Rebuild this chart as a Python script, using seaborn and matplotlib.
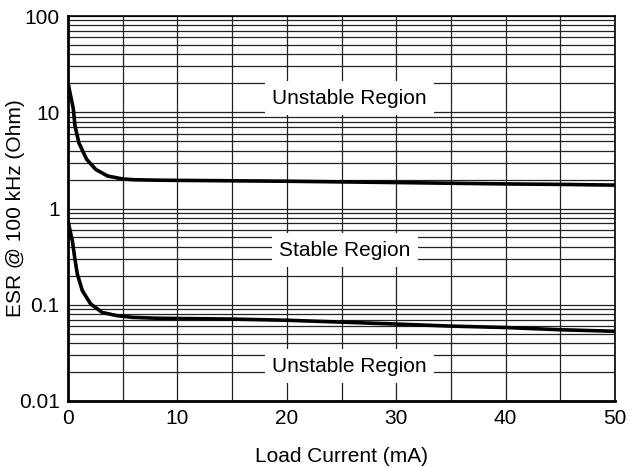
import numpy as np
import pandas as pd
import matplotlib
matplotlib.use("Agg")
import matplotlib.pyplot as plt
import seaborn as sns
from matplotlib.ticker import FixedLocator, FixedFormatter, LogLocator, NullFormatter

# Data
upper_x = [0, 0.2, 0.4, 0.49, 0.64, 1.0, 1.7, 2.53, 3.6, 4.96, 6.0, 8, 10, 15, 20, 25, 30, 35, 40, 45, 50]
upper_y = [20.4, 15.5, 12.2, 10.7, 7.2, 4.8, 3.25, 2.55, 2.18, 2.03, 1.99, 1.97, 1.96, 1.94, 1.92, 1.89, 1.86, 1.83, 1.8, 1.78, 1.75]
lower_x = [0, 0.2, 0.4, 0.61, 0.85, 1.31, 2.07, 3.14, 4.5, 5.9, 8, 10, 15, 20, 25, 30, 35, 40, 45, 50]
lower_y = [0.75, 0.58, 0.46, 0.31, 0.209, 0.14, 0.102, 0.083, 0.077, 0.074, 0.0725, 0.072, 0.071, 0.069, 0.066, 0.063, 0.060, 0.058, 0.055, 0.053]

x_ticks = [0, 10, 20, 30, 40, 50]
y_ticks = [0.01, 0.1, 1, 10, 100]
y_tick_labels = ["0.01", "0.1", "1", "10", "100"]

labels = ["Unstable Region", "Stable Region", "Unstable Region"]
label_x = [25.7, 25.3, 25.7]
label_y = [14, 0.37, 0.023]

sns.set_style("white")
plt.rcParams['font.family'] = ['Liberation Sans', 'DejaVu Sans']
plt.rcParams['text.color'] = 'black'
plt.rcParams['axes.labelcolor'] = 'black'

fig = plt.figure(figsize=(6.29, 4.67), dpi=100)
ax = fig.add_axes([68/629, 1 - 401/467, (615-68)/629, (401-16)/467])

df = pd.concat([
    pd.DataFrame({"x": upper_x, "y": upper_y, "curve": "upper"}),
    pd.DataFrame({"x": lower_x, "y": lower_y, "curve": "lower"}),
])
sns.lineplot(data=df, x="x", y="y", units="curve", estimator=None, sort=False,
             color="black", linewidth=2.6, ax=ax, zorder=5)
for l in ax.get_lines():
    l.set_solid_joinstyle("round")
    l.set_solid_capstyle("butt")

ax.set_yscale("log")
ax.set_xlim(0, 50)
ax.set_ylim(0.01, 100)

ax.xaxis.set_major_locator(FixedLocator(x_ticks))
ax.xaxis.set_minor_locator(FixedLocator([5, 15, 25, 35, 45]))
ax.yaxis.set_major_locator(FixedLocator(y_ticks))
ax.yaxis.set_major_formatter(FixedFormatter(y_tick_labels))
ax.yaxis.set_minor_locator(LogLocator(base=10, subs=np.arange(2, 10)))
ax.yaxis.set_minor_formatter(NullFormatter())

ax.grid(True, which="both", color="#222222", linewidth=0.9, zorder=1)
ax.set_axisbelow(True)
ax.tick_params(which="both", length=0, labelsize=15, pad=6, colors="black")

for s in ax.spines.values():
    s.set_linewidth(1.2)
    s.set_color("black")
    s.set_visible(True)
ax.spines["left"].set_linewidth(2)
ax.spines["bottom"].set_linewidth(2)

for t, xx, yy in zip(labels, label_x, label_y):
    ax.text(xx, yy, t, ha="center", va="center", fontsize=15, zorder=4, color="black",
            bbox=dict(boxstyle="square,pad=0.35", facecolor="white", edgecolor="none"))

ax.set_xlabel("Load Current (mA)", fontsize=15)
ax.set_ylabel("ESR @ 100 kHz (Ohm)", fontsize=15)
ax.xaxis.set_label_coords(0.5, -0.12)
ax.yaxis.set_label_coords(-0.078, 0.5)

fig.savefig("out.png", dpi=100)
